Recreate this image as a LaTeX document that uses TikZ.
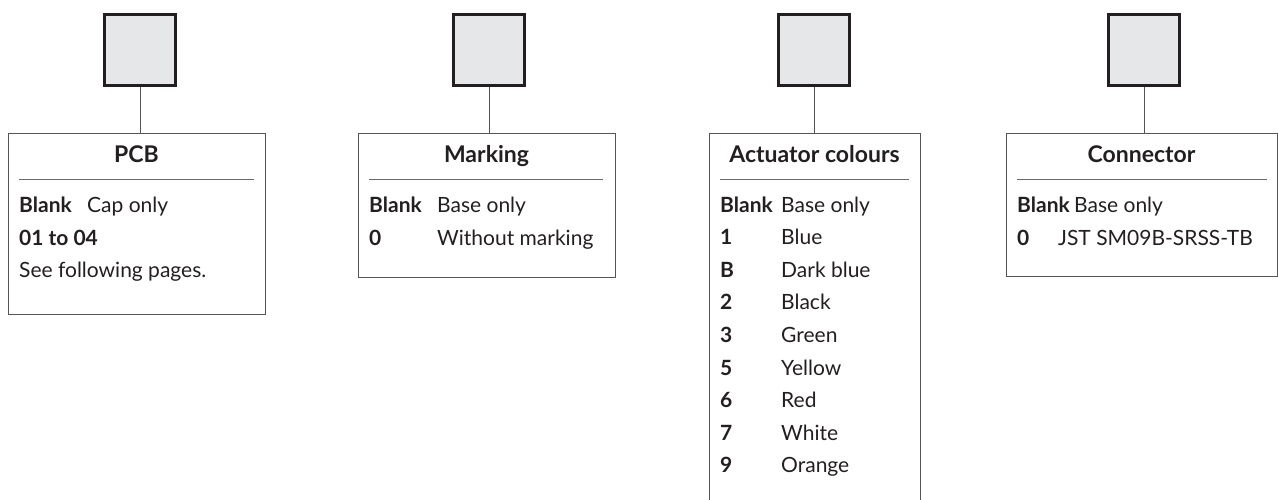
\documentclass[tikz,border=0pt]{standalone}
\usepackage{fontspec}
\setmainfont{Lato}
\definecolor{ink}{HTML}{231F20}
\definecolor{squarefill}{HTML}{E6E7E8}
\definecolor{frame}{HTML}{555555}
\definecolor{rulegray}{HTML}{6A6A6A}
\begin{document}
\begin{tikzpicture}[x=1pt,y=-1pt,
  selector/.style={draw=ink, line width=2.7pt, fill=squarefill,
    minimum size=71.3pt, inner sep=0pt},
  panel/.style={draw=frame, line width=0.9pt, anchor=north west, inner sep=0pt},
  link/.style={draw=frame, line width=0.9pt},
  sep/.style={draw=rulegray, line width=0.9pt},
  title/.style={anchor=base, inner sep=0pt, text=ink,
    font=\fontsize{23}{28}\selectfont\bfseries},
  key/.style={anchor=base west, inner sep=0pt, text=ink,
    font=\fontsize{21}{25}\selectfont\bfseries},
  val/.style={anchor=base west, inner sep=0pt, text=ink,
    font=\fontsize{21}{25}\selectfont}]
\useasboundingbox (0,0) rectangle (1278,500);

% ---- PCB ----
\node[selector] (s1) at (140,50) {};
\node[panel, minimum width=257pt, minimum height=181pt] (b1) at (8,133) {};
\draw[link] (s1.south) -- (s1.south |- b1.north);
\node[title] (t1) at (136.5,163) {PCB};
\draw[sep] (19,179) -- (254,179);
\node[key] (k1a) at (19,213) {Blank};
\node[val] (v1a) at (87,213) {Cap only};
\node[key] (k1b) at (19,245) {01 to 04};
\node[val] (v1c) at (19,277) {See following pages.};

% ---- Marking ----
\node[selector] (s2) at (489,50) {};
\node[panel, minimum width=257pt, minimum height=144pt] (b2) at (358,133) {};
\draw[link] (s2.south) -- (s2.south |- b2.north);
\node[title] (t2) at (486.5,163) {Marking};
\draw[sep] (369,179) -- (603,179);
\node[key] (k2a) at (369,212) {Blank};
\node[val] (v2a) at (437,212) {Base only};
\node[key] (k2b) at (369,245) {0};
\node[val] (v2b) at (437,245) {Without marking};

% ---- Actuator colours (frame runs on below the page) ----
\node[selector] (s3) at (814,50) {};
\node[panel, minimum width=211pt, minimum height=390pt] (b3) at (709,133) {};
\draw[link] (s3.south) -- (s3.south |- b3.north);
\node[title] (t3) at (814.5,163) {Actuator colours};
\draw[sep] (720,179) -- (909,179);
\foreach \k/\v [count=\i from 0] in {Blank/Base only, 1/Blue, B/Dark blue,
    2/Black, 3/Green, 5/Yellow, 6/Red, 7/White, 9/Orange}{
  \node[key] (k3-\i) at (720,212+32.6*\i) {\k};
  \node[val] (v3-\i) at (781,212+32.6*\i) {\v};
}

% ---- Connector ----
\node[selector] (s4) at (1144,50) {};
\node[panel, minimum width=271pt, minimum height=143pt] (b4) at (1006,133) {};
\draw[link] (s4.south) -- (s4.south |- b4.north);
\node[title] (t4) at (1141.5,163) {Connector};
\draw[sep] (1017,179) -- (1267,179);
\node[key] (k4a) at (1017,212) {Blank};
\node[val] (v4a) at (1074,212) {Base only};
\node[key] (k4b) at (1017,245) {0};
\node[val] (v4b) at (1058,245) {JST SM09B-SRSS-TB};
\end{tikzpicture}
\end{document}
